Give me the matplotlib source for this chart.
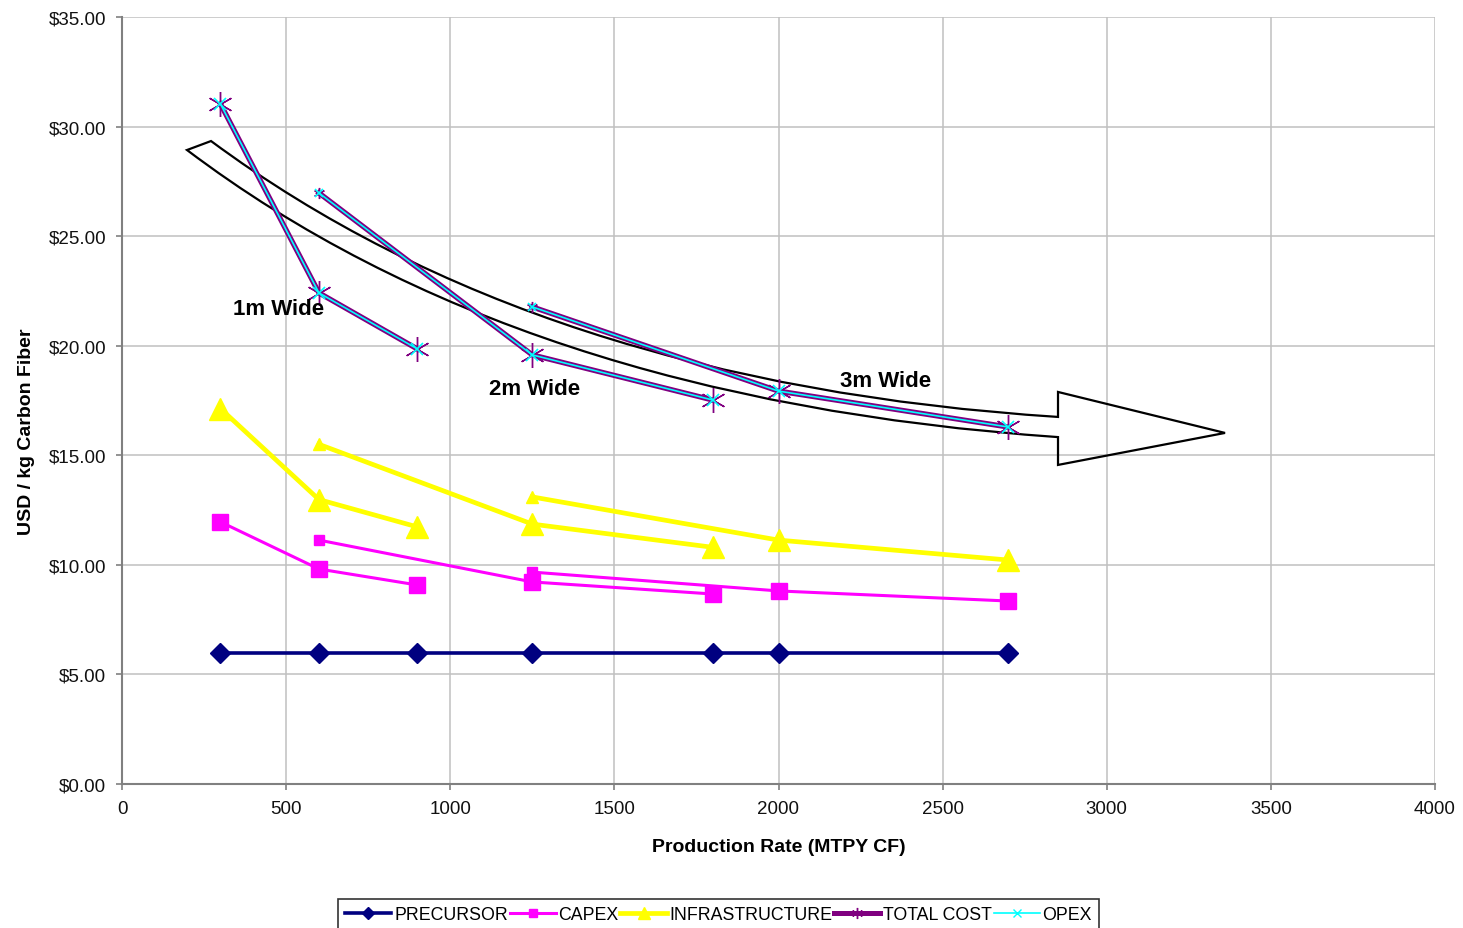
import matplotlib
matplotlib.use("Agg")
import matplotlib.pyplot as plt
from matplotlib.path import Path
from matplotlib.patches import PathPatch
from matplotlib.lines import Line2D

# ---------------- data ----------------
x_1m = [300, 600, 900]
x_2m = [600, 1250, 1800]
x_3m = [1250, 2000, 2700]
x_all = [300, 600, 900, 1250, 1800, 2000, 2700]

precursor = [6.0, 6.0, 6.0, 6.0, 6.0, 6.0, 6.0]

capex_1m = [11.96, 9.81, 9.08]
capex_2m = [11.13, 9.22, 8.67]
capex_3m = [9.67, 8.81, 8.35]

infra_1m = [17.13, 12.98, 11.73]
infra_2m = [15.50, 11.86, 10.80]
infra_3m = [13.10, 11.13, 10.22]

total_1m = [31.03, 22.41, 19.85]
total_2m = [26.97, 19.58, 17.52]
total_3m = [21.77, 17.93, 16.29]

opex_1m = [31.03, 22.41, 19.85]
opex_2m = [26.97, 19.58, 17.52]
opex_3m = [21.77, 17.93, 16.29]

width_labels = ["1m Wide", "2m Wide", "3m Wide"]
label_pos_x = [338, 1118, 2187]
label_pos_y = [21.68, 18.03, 18.39]

y_ticks = [0, 5, 10, 15, 20, 25, 30, 35]
x_ticks = [0, 500, 1000, 1500, 2000, 2500, 3000, 3500, 4000]

# ---------------- figure ----------------
fig = plt.figure(figsize=(14.63, 9.29), dpi=100)
ax = fig.add_axes([122/1463, 1-785/929, 1313/1463, 767/929])

ax.set_xlim(0, 4000)
ax.set_ylim(0, 35)
ax.set_xticks(x_ticks)
ax.set_yticks(y_ticks)
ax.set_yticklabels([f"${v:.2f}" for v in y_ticks])
ax.set_xticklabels([str(v) for v in x_ticks])
ax.grid(True, color="#c0c0c0", lw=1.1, zorder=0)
ax.set_axisbelow(True)
for s in ["top", "right"]:
    ax.spines[s].set_visible(False)
for s in ["left", "bottom"]:
    ax.spines[s].set_color("#808080")
    ax.spines[s].set_linewidth(1.5)
ax.tick_params(axis="both", direction="out", length=4.5, width=1.2,
               color="#808080", labelsize=13.5, labelcolor="#111111", pad=7)
for lab in ax.get_xticklabels() + ax.get_yticklabels():
    lab.set_family("Liberation Sans")

ax.set_xlabel("Production Rate (MTPY CF)", fontsize=14, fontweight="bold",
              family="Liberation Sans")
ax.xaxis.set_label_coords(0.5, -0.071)
ax.set_ylabel("USD / kg Carbon Fiber", fontsize=14, fontweight="bold",
              family="Liberation Sans")
ax.yaxis.set_label_coords(-0.066, 0.46)

# ---------------- arrow (annotation shape) ----------------
verts = [
    (271.2, 29.34), (1270.4, 18.25), (2851.5, 16.75),   # upper edge
    (2851.5, 17.89), (3360.3, 16.02), (2851.5, 14.56),  # head
    (2851.5, 15.83), (1206.4, 17.52), (198.0, 28.93),   # lower edge
    (271.2, 29.34),
]
codes = [Path.MOVETO, Path.CURVE3, Path.CURVE3,
         Path.LINETO, Path.LINETO, Path.LINETO,
         Path.LINETO, Path.CURVE3, Path.CURVE3,
         Path.CLOSEPOLY]
ax.add_patch(PathPatch(Path(verts, codes), facecolor="none",
                       edgecolor="black", lw=1.6, zorder=2))

# ---------------- series ----------------
ax.plot(x_all, precursor, color="#000080", lw=2.6, marker="D", ms=10.5,
        zorder=3)

groups_x = [x_1m, x_2m, x_3m]

def draw(gx, gy, color, lw, marker, ms_big, ms_small, mew=1.0, z=3):
    for i, (xs, ys) in enumerate(zip(gx, gy)):
        ax.plot(xs, ys, color=color, lw=lw, zorder=z)
        if i == 0:
            ax.plot(xs, ys, ls="none", marker=marker, ms=ms_big, color=color,
                    mew=mew, zorder=z)
        else:
            ax.plot(xs[1:], ys[1:], ls="none", marker=marker, ms=ms_big,
                    color=color, mew=mew, zorder=z)
            ax.plot(xs[:1], ys[:1], ls="none", marker=marker, ms=ms_small,
                    color=color, mew=mew, zorder=z)

draw(groups_x, [capex_1m, capex_2m, capex_3m], "#FF00FF", 2.2, "s", 12, 7)
draw(groups_x, [infra_1m, infra_2m, infra_3m], "#FFFF00", 3.4, "^", 16, 9)
draw(groups_x, [total_1m, total_2m, total_3m], "#800080", 3.8, (6, 2, 0), 18, 8,
     mew=1.0, z=4)
draw(groups_x, [opex_1m, opex_2m, opex_3m], "#00FFFF", 1.2, "x", 8, 6,
     mew=1.2, z=5)

for t, xx, yy in zip(width_labels, label_pos_x, label_pos_y):
    ax.text(xx, yy, t, fontsize=16, fontweight="bold", family="Liberation Sans",
            ha="left", va="center", zorder=6)

# ---------------- legend ----------------
handles = [
    Line2D([], [], color="#000080", lw=2.6, marker="D", ms=6),
    Line2D([], [], color="#FF00FF", lw=2.2, marker="s", ms=6),
    Line2D([], [], color="#FFFF00", lw=3.4, marker="^", ms=8),
    Line2D([], [], color="#800080", lw=3.6, marker=(6, 2, 0), ms=8, mew=1),
    Line2D([], [], color="#00FFFF", lw=1.2, marker="x", ms=6, mew=1),
]
labels = ["PRECURSOR", "CAPEX", "INFRASTRUCTURE", "TOTAL COST", "OPEX"]
leg = fig.legend(handles, labels, loc="upper left",
                 bbox_to_anchor=(338/1463, 1-900/929),
                 bbox_transform=fig.transFigure, ncol=5, frameon=True,
                 fancybox=False, edgecolor="black", borderaxespad=0,
                 handlelength=2.6, handletextpad=0.15, columnspacing=0.1,
                 borderpad=0.4,
                 prop={"family": "Liberation Sans", "size": 12.8})
leg.get_frame().set_linewidth(1.2)

fig.savefig("out.png", dpi=100)
